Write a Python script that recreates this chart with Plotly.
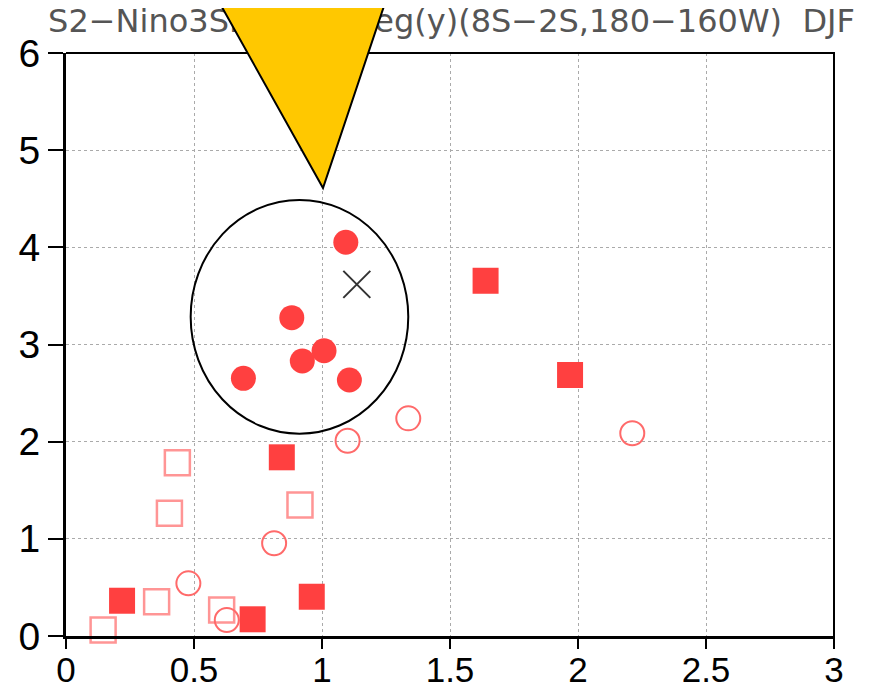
import plotly.graph_objects as go

# ---- data ----
filled_circle_x = [1.093, 0.882, 0.923, 1.008, 0.693, 1.107]
filled_circle_y = [4.052, 3.276, 2.830, 2.936, 2.652, 2.635]

open_circle_x = [1.100, 1.337, 2.212, 0.813, 0.478, 0.628]
open_circle_y = [2.010, 2.240, 2.086, 0.954, 0.542, 0.165]

filled_square_x = [0.843, 0.960, 0.729, 0.219, 1.639, 1.969]
filled_square_y = [1.839, 0.404, 0.172, 0.363, 3.656, 2.686]

open_square_x = [0.435, 0.404, 0.914, 0.354, 0.608, 0.145]
open_square_y = [1.783, 1.263, 1.348, 0.353, 0.268, 0.062]

cross_x = [1.136]
cross_y = [3.619]

x_ticks = [0, 0.5, 1, 1.5, 2, 2.5, 3]
x_tick_labels = ["0", "0.5", "1", "1.5", "2", "2.5", "3"]
y_ticks = [0, 1, 2, 3, 4, 5, 6]
y_tick_labels = ["0", "1", "2", "3", "4", "5", "6"]

title_text = "S2\u2212Nino3SD(x) vs Reg(y)(8S\u22122S,180\u2212160W)\u00a0\u00a0DJF"

# highlighted ellipse (data coords)
ellipse_x = [0.487, 1.337]
ellipse_y = [2.082, 4.488]

# page has an 8px body margin: figure is drawn 8px in from the window corner
OFF = 8
W, H = 870 - OFF, 692 - OFF
RED = "#FF4040"
OPEN_CIRCLE = "#FF6A6A"
OPEN_SQUARE = "#FF9595"

# plot area in window pixels
PL, PR, PT, PB = 66, 834, 53, 636


def px(sx):
    return (sx - OFF) / W


def py(sy):
    return 1 - (sy - OFF) / H


fig = go.Figure()

fig.add_trace(go.Scatter(
    x=open_square_x, y=open_square_y, mode="markers", cliponaxis=False,
    marker=dict(symbol="square-open", size=25, color=OPEN_SQUARE,
                line=dict(width=2.5, color=OPEN_SQUARE)),
    showlegend=False, hoverinfo="x+y"))

fig.add_trace(go.Scatter(
    x=open_circle_x, y=open_circle_y, mode="markers", cliponaxis=False,
    marker=dict(symbol="circle-open", size=24, color=OPEN_CIRCLE,
                line=dict(width=2, color=OPEN_CIRCLE)),
    showlegend=False, hoverinfo="x+y"))

fig.add_trace(go.Scatter(
    x=filled_square_x, y=filled_square_y, mode="markers", cliponaxis=False,
    marker=dict(symbol="square", size=26, color=RED, line=dict(width=0)),
    showlegend=False, hoverinfo="x+y"))

fig.add_trace(go.Scatter(
    x=filled_circle_x, y=filled_circle_y, mode="markers", cliponaxis=False,
    marker=dict(symbol="circle", size=25, color=RED, line=dict(width=0)),
    showlegend=False, hoverinfo="x+y"))

fig.add_trace(go.Scatter(
    x=cross_x, y=cross_y, mode="markers", cliponaxis=False,
    marker=dict(symbol="x-thin-open", size=27, color="#333333",
                line=dict(width=2, color="#333333")),
    showlegend=False, hoverinfo="x+y"))

# empty trace that carries the long x tick marks (overlay axis x3)
fig.add_trace(go.Scatter(x=[], y=[], xaxis="x3", yaxis="y", mode="markers",
                         showlegend=False, hoverinfo="skip"))

# title as real text on a full-figure overlay subplot (so the pointer shape can cover it)
fig.add_trace(go.Scatter(
    x=[451.5], y=[24], mode="text", text=[title_text], cliponaxis=False,
    textposition="middle center",
    textfont=dict(family="DejaVu Sans", size=32, color="#555555"),
    xaxis="x2", yaxis="y2", showlegend=False, hoverinfo="skip"))

# ellipse
fig.add_shape(type="circle", xref="x", yref="y",
              x0=ellipse_x[0], x1=ellipse_x[1], y0=ellipse_y[0], y1=ellipse_y[1],
              line=dict(color="black", width=2), fillcolor="rgba(0,0,0,0)", layer="above")

# top and right frame lines
fig.add_shape(type="line", xref="paper", yref="paper",
              x0=px(PL), x1=px(PR + 1), y0=py(PT), y1=py(PT),
              line=dict(color="black", width=2), layer="above")
fig.add_shape(type="line", xref="paper", yref="paper",
              x0=px(PR), x1=px(PR), y0=py(PT), y1=py(PB + 12),
              line=dict(color="black", width=2), layer="above")

# yellow triangle pointer
fig.add_shape(type="path", xref="paper", yref="paper",
              path=f"M {px(215.2):.5f} {py(-5):.5f} L {px(387.7):.5f} {py(-5):.5f} "
                   f"L {px(323):.5f} {py(188):.5f} Z",
              fillcolor="#FFC800", line=dict(color="black", width=2), layer="above")

axis_common = dict(showgrid=True, gridcolor="#AAAAAA", gridwidth=1, griddash="dot",
                   zeroline=False, showline=True, linecolor="black", linewidth=3,
                   ticks="outside", tickwidth=2, tickcolor="black",
                   automargin=False, fixedrange=True)

fig.update_layout(
    width=W, height=H,
    margin=dict(l=0, r=0, t=0, b=0, pad=0),
    paper_bgcolor="white", plot_bgcolor="rgba(0,0,0,0)",
    xaxis=dict(range=[0, 3], tickvals=x_ticks, ticktext=x_tick_labels,
               domain=[px(PL), px(PR)], ticklen=1,
               tickfont=dict(family="Liberation Sans", size=35, color="black"),
               **axis_common),
    xaxis3=dict(range=[0, 3], tickvals=x_ticks, overlaying="x", anchor="y",
                side="bottom", showticklabels=False, showgrid=False,
                zeroline=False, showline=False, ticks="outside", ticklen=12,
                tickwidth=2, tickcolor="black", fixedrange=True),
    yaxis=dict(range=[0, 6], tickvals=y_ticks, ticktext=y_tick_labels,
               domain=[py(PB), py(PT)], ticklen=15,
               tickfont=dict(family="Liberation Sans", size=39, color="black"),
               **axis_common),
    xaxis2=dict(domain=[0, 1], range=[OFF, 870], visible=False, anchor="y2",
                fixedrange=True),
    yaxis2=dict(domain=[0, 1], range=[692, OFF], visible=False, anchor="x2",
                fixedrange=True),
)

fig.write_html("out.html")
